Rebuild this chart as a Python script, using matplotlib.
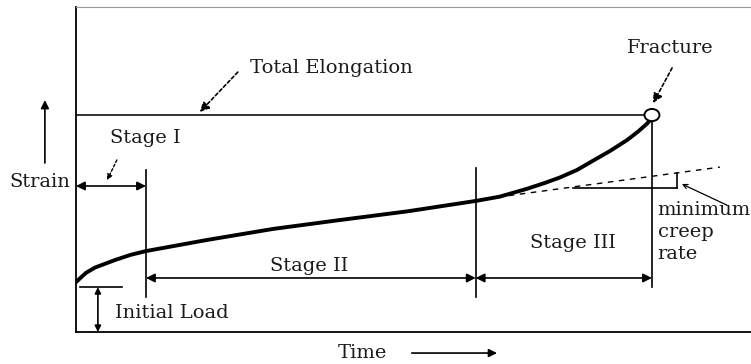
import numpy as np
import matplotlib.pyplot as plt
from matplotlib.patches import Ellipse

OUTPUT_PATH = "out.png"

# creep curve (time, strain), arbitrary units
time = [0, 1.0, 1.7, 3.3, 6.8, 9.4, 12.15, 22.7, 34.2, 45.8, 57.5, 69.4,
        73.6, 78.3, 81.4, 84.0, 87.0, 89.8, 92.7, 95.7, 97.6, 99.1, 99.7]
strain = [2.30, 2.55, 2.72, 2.97, 3.32, 3.55, 3.73, 4.24, 4.75, 5.16, 5.56, 6.04,
          6.24, 6.60, 6.87, 7.12, 7.47, 7.90, 8.34, 8.85, 9.24, 9.59, 9.77]

stage_bounds = [0, 12.15, 69.4, 100.0]   # start, end of I, end of II, fracture
total_elongation = 10.0
initial_strain = 2.07

# minimum creep rate tangent (time, strain)
tangent_t = [69.4, 111.8]
tangent_s = [6.08, 7.60]
slope_t = [86.3, 104.3]
slope_s = [6.64, 7.33]

FONT = "DejaVu Serif"
FS = 14
INK = "#1a1a1a"


def arrow(ax, start, end, style="-|>", lw=1.2, ls="-", scale=12):
    ax.annotate("", xy=end, xytext=start, annotation_clip=False,
                arrowprops=dict(arrowstyle=style, color="black", lw=lw, ls=ls,
                                mutation_scale=scale, shrinkA=0, shrinkB=0))


def main():
    fig = plt.figure(figsize=(7.51, 3.64), dpi=100)
    ax = fig.add_axes([76 / 751, 32 / 364, 675 / 751, 325 / 364])
    ax.set_xlim(0, 117.2)
    ax.set_ylim(0, 14.98)
    ax.set_xticks([])
    ax.set_yticks([])
    ax.spines["right"].set_visible(False)
    ax.spines["top"].set_color("#999999")
    for side in ("left", "bottom"):
        ax.spines[side].set_linewidth(1.3)

    t0, t1, t2, tf = stage_bounds

    # creep curve
    ax.plot(time, strain, color="black", lw=2.8, solid_capstyle="round",
            solid_joinstyle="round")

    # total elongation line and fracture point
    ax.plot([0, tf - 1.2], [total_elongation, total_elongation], color="#333333", lw=1.4)
    ax.add_patch(Ellipse((tf, total_elongation), 2.6, 0.56, facecolor="white",
                         edgecolor="black", lw=1.4, zorder=5))

    # stage boundaries
    ax.plot([t1, t1], [1.61, 7.47], color="black", lw=1.2)
    ax.plot([t2, t2], [1.61, 7.56], color="black", lw=1.2)
    ax.plot([tf, tf], [2.07, total_elongation - 0.28], color="black", lw=1.2)

    # stage spans
    arrow(ax, (t0, 6.73), (t1, 6.73), style="<|-|>", scale=13)
    arrow(ax, (t1, 2.49), (t2, 2.49), style="<|-|>", scale=13)
    arrow(ax, (t2, 2.49), (tf, 2.49), style="<|-|>", scale=13)

    # initial load
    ax.plot([0.7, 8.0], [initial_strain, initial_strain], color="black", lw=1.2)
    arrow(ax, (3.8, 0), (3.8, initial_strain), style="<|-|>", scale=9)

    # minimum creep rate construction
    ax.plot(tangent_t, tangent_s, color="black", lw=1.0, ls=(0, (4, 4)))
    ax.plot([slope_t[0], slope_t[1]], [slope_s[0], slope_s[0]], color="black", lw=1.2)
    ax.plot([slope_t[1], slope_t[1]], [slope_s[0], slope_s[1]], color="black", lw=1.2)
    arrow(ax, (113.0, 5.85), (105.2, 6.82), style="->", lw=0.9, scale=8)

    # labels
    txt = dict(family=FONT, fontsize=FS, color=INK)
    ax.text(44.4, 12.17, "Total Elongation", ha="center", va="center", **txt)
    arrow(ax, (28.1, 11.98), (21.5, 10.14), ls=(0, (2, 1.5)), scale=14)
    ax.text(103.1, 13.09, "Fracture", ha="center", va="center", **txt)
    arrow(ax, (103.5, 12.17), (100.2, 10.55), ls=(0, (2, 1.5)), scale=14)
    ax.text(5.9, 8.94, "Stage I", ha="left", va="center", **txt)
    arrow(ax, (7.1, 7.93), (5.4, 7.0), ls=(0, (2, 1.5)), lw=1.0, scale=8)
    ax.text(40.5, 3.04, "Stage II", ha="center", va="center", **txt)
    ax.text(86.3, 4.10, "Stage III", ha="center", va="center", **txt)
    ax.text(6.8, 0.88, "Initial Load", ha="left", va="center", **txt)
    ax.text(101.0, 4.61, "minimum\ncreep\nrate", ha="left", va="center",
            linespacing=1.3, **txt)

    # axis labels with arrows outside the box
    ax.text(-6.25, 6.91, "Strain", ha="center", va="center", clip_on=False, **txt)
    arrow(ax, (-5.4, 7.79), (-5.4, 10.69), scale=12)
    ax.text(49.7, -0.97, "Time", ha="center", va="center", clip_on=False, **txt)
    arrow(ax, (58.3, -0.97), (73.1, -0.97), scale=12)

    fig.savefig(OUTPUT_PATH, dpi=100)


if __name__ == "__main__":
    main()
